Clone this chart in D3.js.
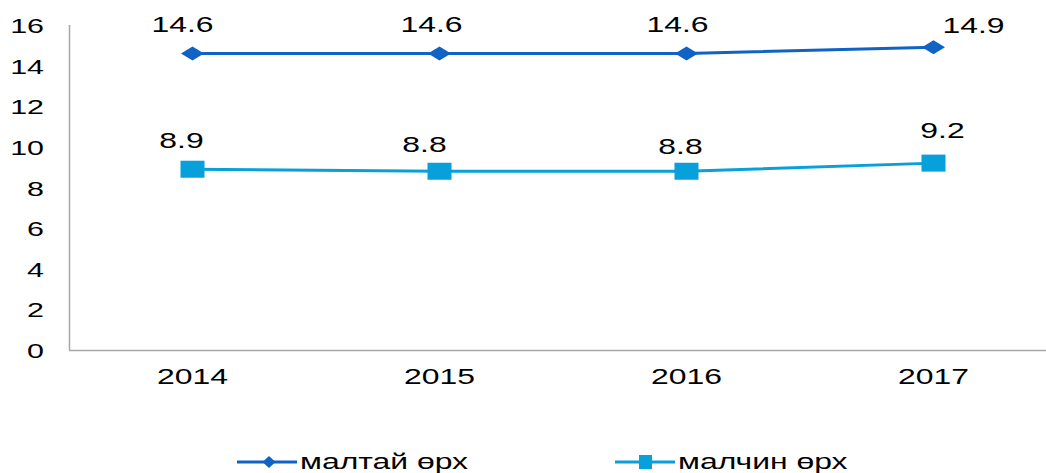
<!DOCTYPE html>
<html><head><meta charset="utf-8">
<script src="https://cdn.jsdelivr.net/npm/d3@7"></script>
<style>html,body{margin:0;padding:0;background:#fff;overflow:hidden}</style>
</head><body>
<svg id="c" width="1046" height="473"></svg>
<script>
const years = ["2014","2015","2016","2017"];
const seriesNames = ["малтай өрх","малчин өрх"];
const maltai = [14.6,14.6,14.6,14.9];
const malchin = [8.9,8.8,8.8,9.2];
const yTicks = [0,2,4,6,8,10,12,14,16];

// label placement tweaks (layout only)
const labelDx = [[-10,-8,-9,40],[-11,-15,-6,9]];
const labelDy = [[-21,-21,-21,-14],[-21,-19,-17,-25]];

const colors = ["#0f63c4","#07a0db"];
const FONT = "'Liberation Sans', Arial, sans-serif";
const SX = 1.45;
const svg = d3.select("#c");

const x = d3.scaleBand().domain(years).range([69, 1057]);
const y = d3.scaleLinear().domain([0,16]).range([350, 25]);
const cx = d => x(d) + x.bandwidth()/2;

function txt(g, tx, ty, s, size, anchor){
  return g.append("text")
    .attr("transform", `translate(${tx},${ty}) scale(${SX},1)`)
    .attr("text-anchor", anchor)
    .attr("font-family", FONT)
    .attr("font-size", size)
    .attr("fill", "#000")
    .text(s);
}

// axes
svg.append("line").attr("x1",69.5).attr("x2",69.5).attr("y1",y(16)).attr("y2",y(0))
  .attr("stroke","#a6a6a6").attr("stroke-width",1.5);
svg.append("line").attr("x1",69).attr("x2",1057).attr("y1",y(0)+0.5).attr("y2",y(0)+0.5)
  .attr("stroke","#a6a6a6").attr("stroke-width",1.5);

const gy = svg.append("g");
yTicks.forEach(t => txt(gy, 44, y(t)+8, String(t), 21, "end"));
const gx = svg.append("g");
years.forEach(yr => txt(gx, cx(yr), y(0)+34, yr, 22, "middle"));

const data = [maltai, malchin];
const line = d3.line().x((d,i)=>cx(years[i])).y(d=>y(d));

const diamond = (w,h) => `M${-w/2},0L0,${-h/2}L${w/2},0L0,${h/2}Z`;

data.forEach((vals, si) => {
  svg.append("path").attr("d", line(vals)).attr("fill","none")
    .attr("stroke", colors[si]).attr("stroke-width", 3);
  const g = svg.append("g");
  vals.forEach((v,i) => {
    const px = cx(years[i]), py = y(v);
    if (si === 0) {
      g.append("path").attr("d", diamond(23,14)).attr("transform",`translate(${px},${py})`).attr("fill", colors[si]);
    } else {
      g.append("rect").attr("x", px-12).attr("y", py-8.5).attr("width",24).attr("height",17).attr("fill", colors[si]);
    }
    txt(g, px + labelDx[si][i], py + labelDy[si][i], v.toFixed(1), 22, "middle");
  });
});

// legend
const leg = [{x0:237, tx:300},{x0:615, tx:678}];
seriesNames.forEach((n, si) => {
  const L = leg[si], ly = 462;
  svg.append("line").attr("x1",L.x0).attr("x2",L.x0+60).attr("y1",ly).attr("y2",ly)
    .attr("stroke",colors[si]).attr("stroke-width",3);
  if (si===0) svg.append("path").attr("d", diamond(13,12)).attr("transform",`translate(${L.x0+32},${ly})`).attr("fill",colors[si]);
  else svg.append("rect").attr("x",L.x0+24).attr("y",ly-7).attr("width",13).attr("height",14).attr("fill",colors[si]);
  txt(svg, L.tx, ly+7, n, 22, "start");
});
</script>
</body></html>
